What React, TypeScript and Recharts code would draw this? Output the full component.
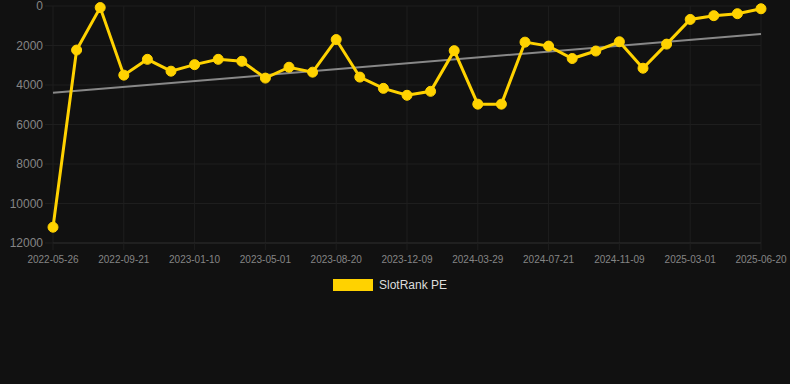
import React from 'react';
import { LineChart, Line, XAxis, YAxis, CartesianGrid, Legend } from 'recharts';

const dates = [
  '2022-05-26', '2022-07-04', '2022-08-12',
  '2022-09-21', '2022-10-28', '2022-12-04',
  '2023-01-10', '2023-02-16', '2023-03-25',
  '2023-05-01', '2023-06-07', '2023-07-14',
  '2023-08-20', '2023-09-26', '2023-11-02',
  '2023-12-09', '2024-01-15', '2024-02-21',
  '2024-03-29', '2024-05-06', '2024-06-13',
  '2024-07-21', '2024-08-27', '2024-10-03',
  '2024-11-09', '2024-12-16', '2025-01-22',
  '2025-03-01', '2025-04-07', '2025-05-14',
  '2025-06-20',
];

const peValues = [
  11200, 2230, 80,
  3500, 2700, 3300,
  2970, 2700, 2800,
  3650, 3100, 3350,
  1700, 3600, 4170,
  4520, 4320, 2260,
  4970, 4970, 1830,
  2030, 2660, 2280,
  1810, 3150, 1930,
  680, 490, 390,
  140,
];

const trendValues: (number | null)[] = [
  4390, null, null, null, null, null, null, null, null, null,
  null, null, null, null, null, null, null, null, null, null,
  null, null, null, null, null, null, null, null, null, null,
  1420,
];

const yTicks = [0, 2000, 4000, 6000, 8000, 10000, 12000];

const data = dates.map((d, i) => ({ date: d, pe: peValues[i], trend: trendValues[i] }));

const FONT = '"Liberation Sans", Arial, Helvetica, sans-serif';
const GRID = '#1e1e1e';
const AXIS = '#2a2a2a';
const YELLOW = '#FFD200';

const LegendContent = () => (
  <div
    style={{
      height: 24,
      display: 'flex',
      alignItems: 'center',
      paddingLeft: 333,
      fontFamily: FONT,
      fontSize: 12,
      color: '#dddddd',
    }}
  >
    <div style={{ width: 40, height: 12, background: YELLOW, marginRight: 6 }} />
    <span>SlotRank PE</span>
  </div>
);

export default function App() {
  return (
    <div style={{ position: 'absolute', left: 0, top: 0, width: 790, height: 384, background: '#111111' }}>
      <LineChart
        width={790}
        height={384}
        data={data}
        margin={{ top: 6, right: 29, left: 0, bottom: 87 }}
        style={{ fontFamily: FONT }}
      >
        <CartesianGrid stroke={GRID} strokeWidth={1} />
        <XAxis
          dataKey="date"
          interval={2}
          height={30}
          tick={{ fill: '#858585', fontSize: 10, fontFamily: FONT }}
          tickLine={{ stroke: GRID }}
          axisLine={{ stroke: AXIS }}
          tickSize={7}
          tickMargin={6}
        />
        <YAxis
          reversed
          domain={[0, 12000]}
          ticks={yTicks}
          width={53}
          interval={0}
          tick={{ fill: '#858585', fontSize: 12, fontFamily: FONT }}
          tickLine={{ stroke: GRID }}
          axisLine={false}
          tickSize={8}
          tickMargin={2}
        />
        <Legend verticalAlign="bottom" content={LegendContent} />
        <Line
          dataKey="trend"
          stroke="#888888"
          strokeWidth={2}
          dot={false}
          activeDot={false}
          connectNulls
          isAnimationActive={false}
          legendType="none"
        />
        <Line
          dataKey="pe"
          stroke={YELLOW}
          strokeWidth={3}
          dot={{ r: 5, fill: YELLOW, stroke: YELLOW, strokeWidth: 1 }}
          activeDot={false}
          isAnimationActive={false}
        />
      </LineChart>
    </div>
  );
}
